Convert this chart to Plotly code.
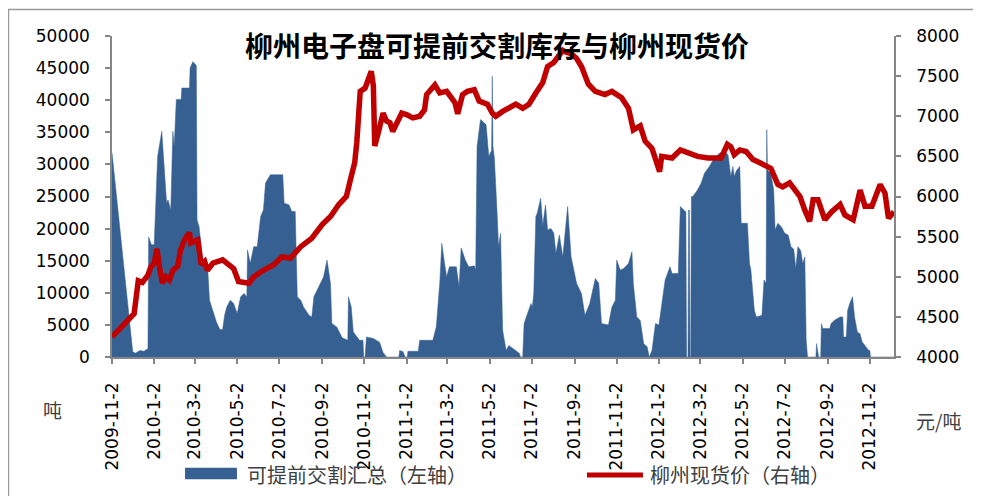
import plotly.graph_objects as go

# ---------------- data ----------------
stock_name = "可提前交割汇总（左轴）"
price_name = "柳州现货价（右轴）"
title_text = "柳州电子盘可提前交割库存与柳州现货价"
left_unit = "吨"
right_unit = "元/吨"

stock_dates = [
    "2009-11-02", "2009-12-02", "2009-12-06", "2009-12-12", "2009-12-18", "2009-12-24", "2009-12-25", "2009-12-29",
    "2010-01-02", "2010-01-07", "2010-01-13", "2010-01-16", "2010-01-20", "2010-01-22", "2010-01-26", "2010-01-29",
    "2010-01-31", "2010-02-03", "2010-02-10", "2010-02-11", "2010-02-22", "2010-02-23", "2010-02-27", "2010-03-04",
    "2010-03-05", "2010-03-08", "2010-03-13", "2010-03-20", "2010-03-23", "2010-04-02", "2010-04-07", "2010-04-11",
    "2010-04-14", "2010-04-17", "2010-04-22", "2010-04-27", "2010-05-02", "2010-05-07", "2010-05-12", "2010-05-16",
    "2010-05-17", "2010-05-21", "2010-05-26", "2010-05-31", "2010-06-05", "2010-06-09", "2010-06-12", "2010-06-19",
    "2010-07-07", "2010-07-09", "2010-07-16", "2010-07-20", "2010-07-25", "2010-07-28", "2010-08-02", "2010-08-06",
    "2010-08-14", "2010-08-18", "2010-08-21", "2010-08-28", "2010-09-04", "2010-09-09", "2010-09-14", "2010-09-16",
    "2010-09-23", "2010-10-01", "2010-10-09", "2010-10-10", "2010-10-14", "2010-10-17", "2010-10-22", "2010-10-26",
    "2010-10-31", "2010-11-01", "2010-11-03", "2010-11-05", "2010-11-15", "2010-11-24", "2010-11-29", "2010-12-04",
    "2010-12-22", "2010-12-23", "2010-12-28", "2010-12-31", "2011-01-03", "2011-01-04", "2011-01-19", "2011-01-21",
    "2011-02-09", "2011-02-14", "2011-02-19", "2011-02-22", "2011-02-26", "2011-03-01", "2011-03-05", "2011-03-15",
    "2011-03-19", "2011-03-22", "2011-03-28", "2011-04-02", "2011-04-10", "2011-04-12", "2011-04-14", "2011-04-19",
    "2011-04-27", "2011-05-01", "2011-05-04", "2011-05-05", "2011-05-06", "2011-05-07", "2011-05-09", "2011-05-11",
    "2011-05-13", "2011-05-15", "2011-05-18", "2011-05-21", "2011-05-26", "2011-05-30", "2011-06-09", "2011-06-14",
    "2011-06-16", "2011-06-19", "2011-06-21", "2011-06-26", "2011-07-01", "2011-07-03", "2011-07-05", "2011-07-08",
    "2011-07-10", "2011-07-15", "2011-07-18", "2011-07-22", "2011-07-25", "2011-07-30", "2011-08-03", "2011-08-06",
    "2011-08-11", "2011-08-16", "2011-08-20", "2011-08-23", "2011-08-28", "2011-09-05", "2011-09-12", "2011-09-17",
    "2011-09-24", "2011-10-02", "2011-10-07", "2011-10-11", "2011-10-21", "2011-10-26", "2011-10-31", "2011-11-02",
    "2011-11-07", "2011-11-12", "2011-11-19", "2011-11-24", "2011-11-26", "2011-12-01", "2011-12-06", "2011-12-11",
    "2011-12-16", "2011-12-19", "2011-12-23", "2011-12-28", "2012-01-02", "2012-01-06", "2012-01-11", "2012-01-18",
    "2012-01-21", "2012-01-30", "2012-02-02", "2012-02-09", "2012-02-10", "2012-02-11", "2012-02-13", "2012-02-14",
    "2012-02-15", "2012-02-16", "2012-02-17", "2012-02-18", "2012-02-20", "2012-02-27", "2012-03-03", "2012-03-08",
    "2012-03-15", "2012-03-22", "2012-03-30", "2012-04-06", "2012-04-11", "2012-04-15", "2012-04-18", "2012-04-20",
    "2012-04-23", "2012-04-28", "2012-04-30", "2012-05-09", "2012-05-12", "2012-05-14", "2012-05-17", "2012-05-19",
    "2012-05-22", "2012-05-30", "2012-06-02", "2012-06-05", "2012-06-06", "2012-06-07", "2012-06-12", "2012-06-16",
    "2012-06-18", "2012-06-22", "2012-06-27", "2012-07-02", "2012-07-07", "2012-07-11", "2012-07-15", "2012-07-18",
    "2012-07-21", "2012-07-25", "2012-07-28", "2012-07-31", "2012-08-02", "2012-08-04", "2012-08-16", "2012-08-17",
    "2012-08-20", "2012-08-23", "2012-08-24", "2012-08-26", "2012-09-05", "2012-09-07", "2012-09-12", "2012-09-20",
    "2012-09-24", "2012-09-25", "2012-09-29", "2012-10-01", "2012-10-04", "2012-10-08", "2012-10-11", "2012-10-15",
    "2012-10-19", "2012-10-22", "2012-10-26", "2012-10-31", "2012-11-02", "2012-11-03", "2012-12-07",
]
stock_values = [
    31800, 800, 600, 1000, 900, 1300, 18700, 17500,
    17500, 31250, 35150, 31000, 24000, 24500, 22900, 35150,
    32800, 40100, 40100, 41900, 41900, 45050, 46000, 45400,
    21350, 20300, 15100, 14600, 8860, 5470, 4300, 4300,
    6600, 7800, 8850, 8330, 6770, 9375, 9900, 9375,
    16670, 14600, 17190, 17190, 21900, 22900, 27100, 28390,
    28390, 23960, 23700, 22660, 22660, 9375, 8850, 7800,
    6510, 6250, 9375, 10940, 12500, 15100, 11460, 5200,
    4690, 3000, 2600, 9375, 7800, 3900, 3125, 2600,
    2600, 0, 0, 3125, 2900, 2300, 700, 0,
    0, 1000, 830, 0, 0, 900, 900, 2600,
    2600, 4700, 11460, 17700, 14580, 12500, 14060, 14060,
    10940, 17000, 15100, 14060, 14200, 13540, 32800, 36980,
    36200, 31250, 32000, 32000, 43750, 32800, 31000, 27600,
    22400, 17200, 19270, 4170, 1040, 1800, 1000, 600,
    0, 0, 5200, 6770, 8330, 7800, 9900, 21880,
    22400, 24740, 20500, 23700, 19800, 20000, 19270, 16150,
    19000, 15600, 20830, 23440, 15600, 11460, 9900, 6500,
    8330, 12240, 11500, 5200, 5000, 7800, 8850, 15100,
    13540, 13800, 14580, 16400, 11460, 6250, 5700, 2080,
    1600, 0, 1040, 5200, 5000, 7800, 12000, 14060,
    13000, 13000, 23440, 22660, 22660, 0, 0, 22900,
    22900, 0, 0, 25000, 25000, 26040, 27080, 28650,
    29690, 31000, 31770, 32030, 31500, 28125, 29690, 28125,
    29000, 29690, 20830, 20830, 14580, 13600, 9375, 7290,
    6250, 6500, 12000, 11500, 35420, 29170, 28500, 26040,
    19800, 20830, 20300, 19270, 19000, 17190, 16800, 13800,
    17190, 16600, 14580, 15600, 2600, 0, 0, 2080,
    0, 0, 5200, 4430, 4430, 5200, 5730, 6250,
    6250, 3125, 3125, 7290, 8330, 9375, 6250, 3900,
    3600, 2340, 1800, 1040, 1040, 0, 0,
]

price_dates = [
    "2009-11-02", "2009-12-04", "2009-12-10", "2009-12-16", "2009-12-24", "2009-12-28", "2010-01-02", "2010-01-06",
    "2010-01-10", "2010-01-14", "2010-01-19", "2010-01-24", "2010-01-29", "2010-02-05", "2010-02-09", "2010-02-15",
    "2010-02-22", "2010-02-24", "2010-03-06", "2010-03-11", "2010-03-16", "2010-03-20", "2010-03-28", "2010-04-11",
    "2010-04-27", "2010-05-04", "2010-05-19", "2010-05-26", "2010-06-09", "2010-06-24", "2010-07-06", "2010-07-18",
    "2010-08-02", "2010-08-18", "2010-09-02", "2010-09-14", "2010-09-26", "2010-10-07", "2010-10-14", "2010-10-19",
    "2010-10-22", "2010-10-26", "2010-10-27", "2010-11-03", "2010-11-07", "2010-11-12", "2010-11-15", "2010-11-17",
    "2010-11-22", "2010-11-29", "2010-12-04", "2010-12-09", "2010-12-13", "2010-12-21", "2010-12-26", "2011-01-02",
    "2011-01-11", "2011-01-21", "2011-01-28", "2011-01-31", "2011-02-12", "2011-02-19", "2011-03-01", "2011-03-08",
    "2011-03-13", "2011-03-17", "2011-03-24", "2011-03-31", "2011-04-10", "2011-04-17", "2011-04-29", "2011-05-06",
    "2011-05-11", "2011-05-21", "2011-06-09", "2011-06-19", "2011-06-28", "2011-07-08", "2011-07-18", "2011-07-25",
    "2011-08-03", "2011-08-16", "2011-08-20", "2011-08-28", "2011-09-05", "2011-09-12", "2011-09-22", "2011-10-02",
    "2011-10-16", "2011-10-26", "2011-11-09", "2011-11-19", "2011-11-26", "2011-12-06", "2011-12-13", "2011-12-23",
    "2011-12-30", "2012-01-03", "2012-01-06", "2012-01-21", "2012-02-02", "2012-02-16", "2012-02-27", "2012-03-13",
    "2012-04-01", "2012-04-10", "2012-04-15", "2012-04-20", "2012-04-28", "2012-05-07", "2012-05-17", "2012-05-27",
    "2012-06-12", "2012-06-22", "2012-06-29", "2012-07-09", "2012-07-18", "2012-07-24", "2012-07-31", "2012-08-07",
    "2012-08-12", "2012-08-19", "2012-08-29", "2012-09-08", "2012-09-20", "2012-09-27", "2012-10-09", "2012-10-19",
    "2012-10-26", "2012-11-05", "2012-11-17", "2012-11-24", "2012-11-29", "2012-12-07",
]
price_values = [
    4250, 4540, 4950, 4930, 5020, 5120, 5170, 5350,
    5100, 4920, 5000, 4960, 5080, 5130, 5330, 5460,
    5550, 5420, 5460, 5150, 5190, 5080, 5170, 5210,
    5100, 4940, 4920, 5000, 5080, 5150, 5250, 5230,
    5375, 5480, 5650, 5750, 5900, 6000, 6250, 6420,
    6670, 7040, 7310, 7350, 7460, 7560, 7380, 6630,
    6790, 7040, 6940, 6920, 6810, 6960, 7040, 7020,
    6980, 7000, 7080, 7270, 7390, 7290, 7310, 7230,
    7170, 7030, 7270, 7310, 7330, 7190, 7150, 7040,
    7000, 7060, 7150, 7100, 7150, 7290, 7420, 7620,
    7670, 7820, 7800, 7780, 7720, 7620, 7400, 7310,
    7270, 7310, 7230, 7100, 6830, 6880, 6690, 6600,
    6440, 6310, 6500, 6480, 6580, 6540, 6500, 6480,
    6480, 6650, 6620, 6520, 6580, 6560, 6460, 6420,
    6350, 6150, 6120, 6170, 6080, 6000, 5830, 5690,
    5960, 5960, 5710, 5810, 5900, 5770, 5710, 6080,
    5880, 5880, 6150, 6040, 5730, 5810,
]

tick_dates = [
    "2009-11-02", "2010-01-02", "2010-03-02", "2010-05-02", "2010-07-02", "2010-09-02", "2010-11-02",
    "2011-01-02", "2011-03-02", "2011-05-02", "2011-07-02", "2011-09-02", "2011-11-02",
    "2012-01-02", "2012-03-02", "2012-05-02", "2012-07-02", "2012-09-02", "2012-11-02",
]
tick_labels = [
    "2009-11-2", "2010-1-2", "2010-3-2", "2010-5-2", "2010-7-2", "2010-9-2", "2010-11-2",
    "2011-1-2", "2011-3-2", "2011-5-2", "2011-7-2", "2011-9-2", "2011-11-2",
    "2012-1-2", "2012-3-2", "2012-5-2", "2012-7-2", "2012-9-2", "2012-11-2",
]
x_range = ["2009-11-02", "2012-12-07"]
left_range = [0, 50000]
right_range = [4000, 8000]

assert len(stock_dates) == len(stock_values), (len(stock_dates), len(stock_values))
assert len(price_dates) == len(price_values), (len(price_dates), len(price_values))

# ---------------- styling ----------------
BLUE = "#376092"
RED = "#C00000"
AXIS = "#868686"
GREY_TXT = "#404040"
CJK = "Noto Sans CJK SC"
NUM = "DejaVu Sans"

fig = go.Figure()
fig.add_trace(go.Scatter(
    x=stock_dates, y=stock_values, name=stock_name, mode="lines",
    line=dict(color=BLUE, width=0.5), fill="tozeroy", fillcolor=BLUE, yaxis="y",
))
fig.add_trace(go.Scatter(
    x=price_dates, y=price_values, name=price_name, mode="lines",
    line=dict(color=RED, width=5.5), yaxis="y2",
))

axis_common = dict(
    showline=True, linecolor=AXIS, linewidth=1.5, ticks="outside", ticklen=5,
    tickcolor=AXIS, tickwidth=1.5, showgrid=False, zeroline=False,
    tickfont=dict(family=NUM, size=17, color="#000000"),
)

# the page body has an 8px margin, so the figure is sized to end at the window edge
fig.update_layout(
    width=973, height=488,
    margin=dict(l=104, r=87, t=28, b=139, autoexpand=False),
    paper_bgcolor="white", plot_bgcolor="white",
    showlegend=False,
    xaxis=dict(type="date", range=x_range, tickvals=tick_dates, ticktext=tick_labels,
               tickangle=-90, ticklabelstandoff=12, automargin=False, **axis_common),
    yaxis=dict(range=left_range, dtick=5000, tickformat="d", ticklabelstandoff=12,
               automargin=False, **axis_common),
    yaxis2=dict(range=right_range, dtick=500, tickformat="d", overlaying="y", side="right",
                ticklabelstandoff=12, automargin=False, **axis_common),
)

# title
fig.add_annotation(text=title_text, xref="paper", yref="paper", x=0.4923, y=0.972,
                   xanchor="center", yanchor="middle", showarrow=False,
                   font=dict(family=CJK, size=28, color="#000000", weight="bold"))
# axis units
fig.add_annotation(text=left_unit, xref="paper", yref="paper", x=-0.0767, y=-0.165,
                   xanchor="center", yanchor="middle", showarrow=False,
                   font=dict(family=CJK, size=19, color=GREY_TXT))
fig.add_annotation(text=right_unit, xref="paper", yref="paper", x=1.0575, y=-0.199,
                   xanchor="center", yanchor="middle", showarrow=False,
                   font=dict(family=CJK, size=19, color=GREY_TXT))

# legend (drawn manually to match the swatch sizes)
fig.add_shape(type="rect", xref="paper", yref="paper", x0=0.0934, x1=0.1598, y0=-0.381, y1=-0.345,
              fillcolor=BLUE, line=dict(width=0))
fig.add_annotation(text=stock_name, xref="paper", yref="paper", x=0.170, y=-0.3676,
                   xanchor="left", yanchor="middle", showarrow=False,
                   font=dict(family=CJK, size=20, color=GREY_TXT))
fig.add_shape(type="line", xref="paper", yref="paper", x0=0.6074, x1=0.679, y0=-0.3676, y1=-0.3676,
              line=dict(color=RED, width=5))
fig.add_annotation(text=price_name, xref="paper", yref="paper", x=0.6854, y=-0.3676,
                   xanchor="left", yanchor="middle", showarrow=False,
                   font=dict(family=CJK, size=20, color=GREY_TXT))

# outer chart border (right and bottom edges fall outside the picture, as in the reference)
fig.add_shape(type="rect", xref="paper", yref="paper", x0=-0.1324, x1=1.14, y0=-0.5, y1=1.0826,
              line=dict(color="#9a9a9a", width=1.5), fillcolor="rgba(0,0,0,0)", layer="below")

fig.write_html("out.html")
